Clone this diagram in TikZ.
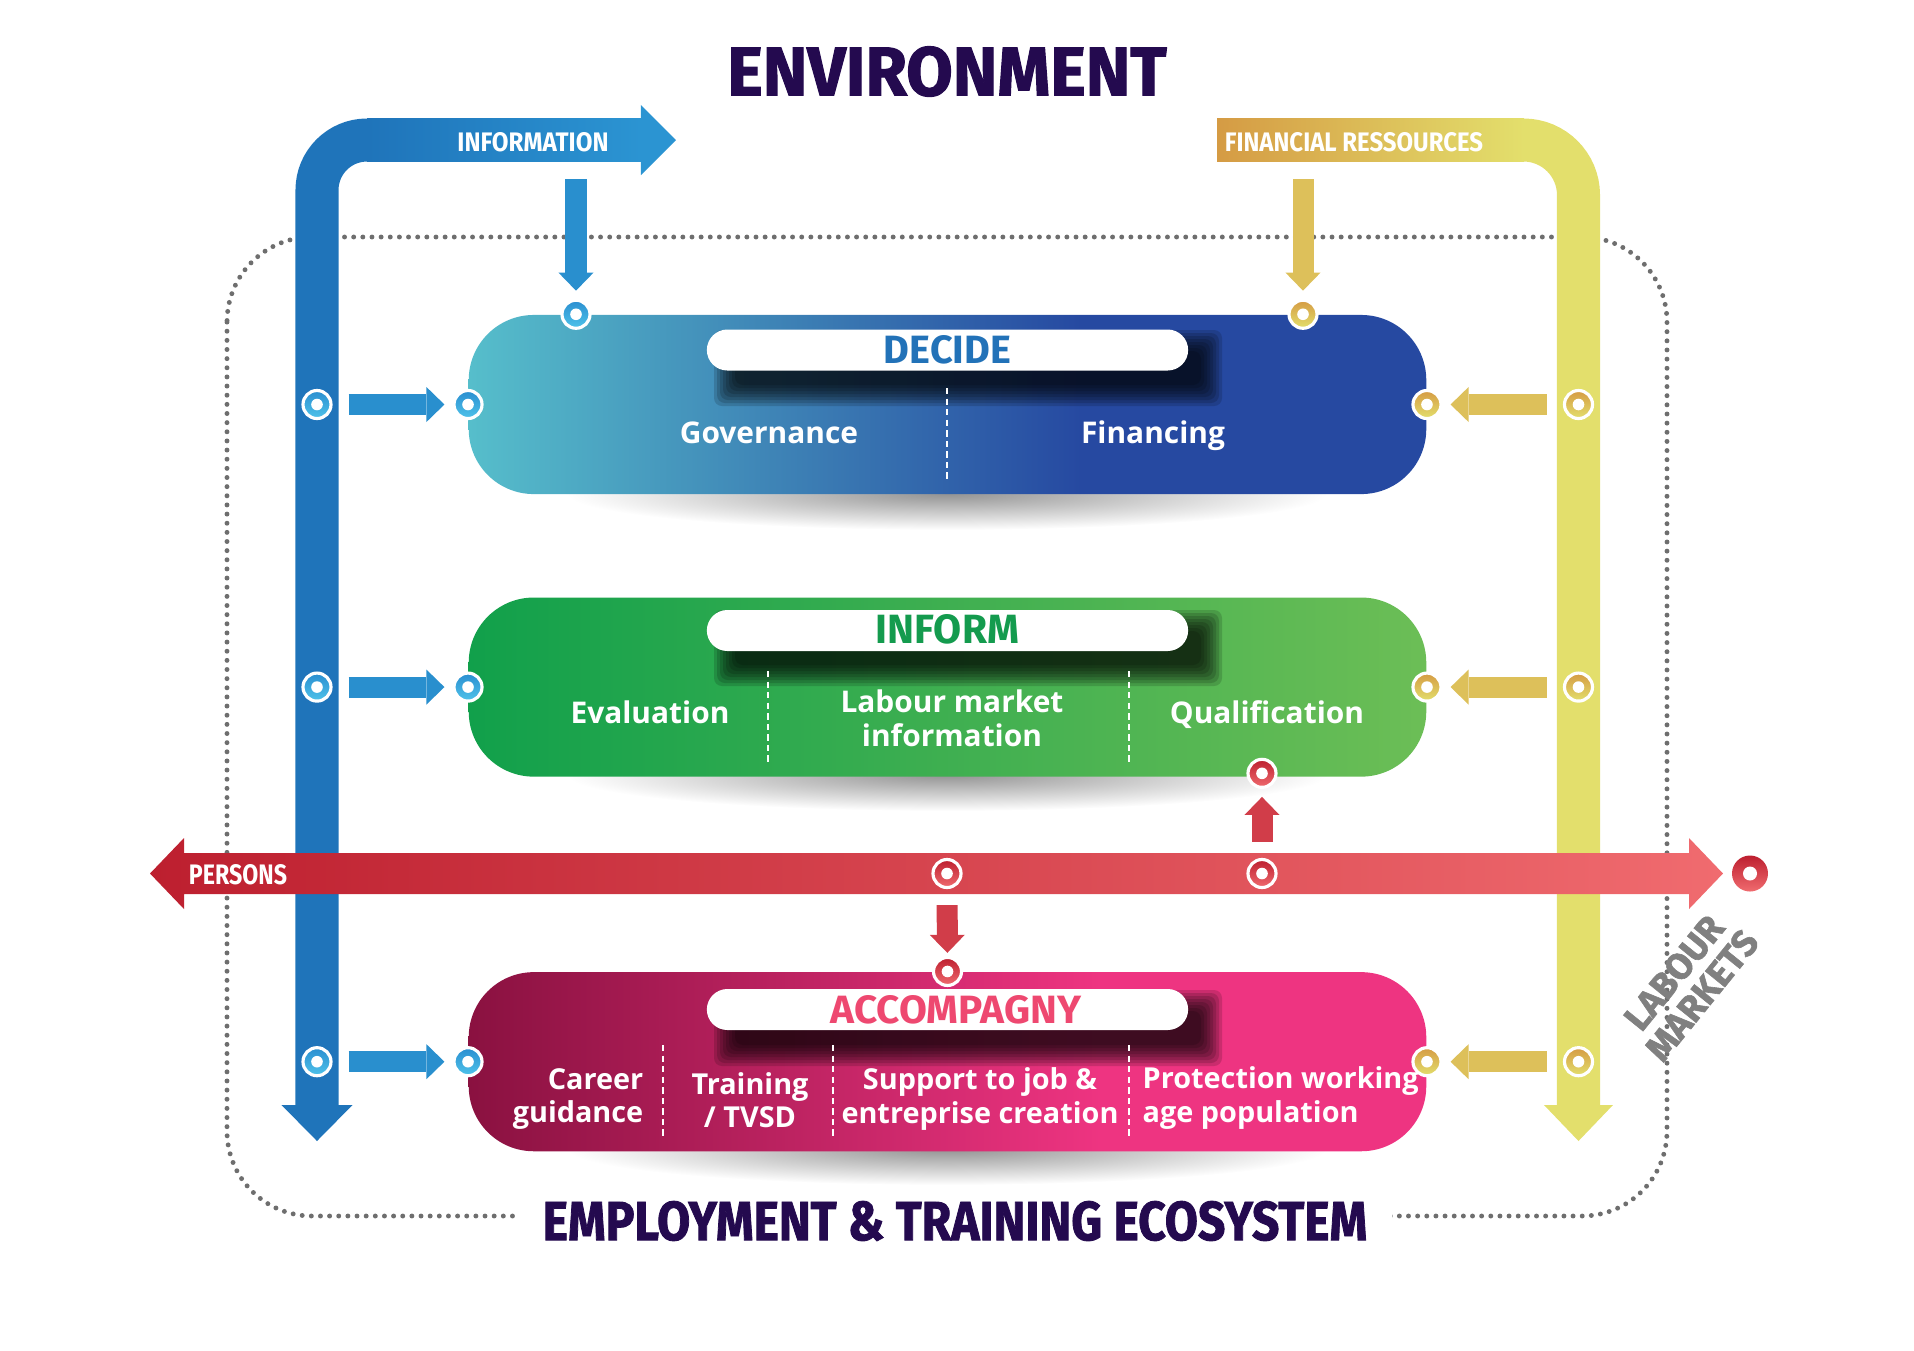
\documentclass[tikz,border=0pt]{standalone}
\usepackage{fontspec}
\usepackage{graphicx}
\usepackage{xcolor}
\usetikzlibrary{positioning,arrows.meta}

\newfontfamily\labelfont{Open Sans}
\newfontfamily\bandfont{Fira Sans}
\newfontfamily\heavyfont{Fira Sans}[BoldFeatures={FakeBold=1.6}]

\definecolor{envpurple}{HTML}{240A4F}
\definecolor{dotgray}{HTML}{6E6E6E}
\definecolor{labgray}{HTML}{808080}
\definecolor{infoblue}{HTML}{1F74BA}
\definecolor{infolight}{HTML}{2B94D2}
\definecolor{fingold}{HTML}{D59B44}
\definecolor{finyellow}{HTML}{E3DF6C}
\definecolor{persdark}{HTML}{BD1F2F}
\definecolor{perslight}{HTML}{F06B6F}
\definecolor{decteal}{HTML}{56BECB}
\definecolor{decblue}{HTML}{2649A1}
\definecolor{infgreen}{HTML}{11A04B}
\definecolor{inflight}{HTML}{6CBE56}
\definecolor{accwine}{HTML}{8A1140}
\definecolor{accpink}{HTML}{EE3481}
\definecolor{decidetext}{HTML}{2272B8}
\definecolor{informtext}{HTML}{149B4E}
\definecolor{accotext}{HTML}{EE4870}
\definecolor{ringblueA}{HTML}{2A8ED0}
\definecolor{ringblueB}{HTML}{4FC3EA}

\pgfdeclarehorizontalshading{decideshade}{100bp}{color(0bp)=(decteal); color(25bp)=(decteal); color(57bp)=(decblue); color(100bp)=(decblue)}
\pgfdeclarehorizontalshading{accoshade}{100bp}{color(0bp)=(accwine); color(25bp)=(accwine); color(58bp)=(accpink); color(100bp)=(accpink)}

\newcommand{\fitcaps}[3]{\resizebox{#1}{#2}{#3}}

\begin{document}
\begin{tikzpicture}[
    x=0.01cm, y=-0.01cm,
    % --- dotted ecosystem frame ---
    ecoline/.style={draw=dotgray, line width=1.4pt, line cap=round,
                    dash pattern=on 0pt off 2.6pt, rounded corners=0.85cm},
    % --- wide environment bands ---
    band/.style={line width=0.43cm, rounded corners=0.5cm},
    % --- stage box ---
    stagebox/.style={shade, rounded corners=0.65cm, minimum width=9.57cm,
                     minimum height=1.79cm, inner sep=0pt},
    boxshadow/.style={inner color=black!42, outer color=white},
    pill/.style={fill=white, rounded corners=0.205cm, minimum width=4.81cm,
                 minimum height=0.41cm, inner sep=0pt},
    lbl/.style={text=white, font=\labelfont\bfseries\fontsize{8.5}{9.7}\selectfont,
                align=center, inner sep=0pt},
    smalllbl/.style={lbl, font=\labelfont\bfseries\fontsize{8.2}{9.5}\selectfont},
    divider/.style={draw=white, line width=0.55pt, dash pattern=on 1.8pt off 1.2pt},
    % --- rings ---
    ring/.style={circle, draw=white, line width=0.9pt, minimum size=0.28cm,
                 inner sep=0pt,
                 path picture={\fill[white] (path picture bounding box.center) circle (0.058cm);}},
    bluering/.style={ring, top color=ringblueA, bottom color=ringblueB},
    goldring/.style={ring, top color=fingold, bottom color=finyellow},
    redring/.style={ring, top color=persdark, bottom color=perslight},
    bigring/.style={circle, draw=none, minimum size=0.36cm, inner sep=0pt,
                    top color=persdark, bottom color=perslight,
                    path picture={\fill[white] (path picture bounding box.center) circle (0.07cm);}},
    % --- short links ---
    link/.style={line width=0.21cm, -{Triangle[width=0.35cm, length=0.18cm, line width=0pt]},
                 shorten <=0.16cm, shorten >=0.08cm},
    bluelink/.style={link, draw=infolight!85!infoblue},
    goldlink/.style={link, draw=finyellow!55!fingold},
    redlink/.style={link, draw=persdark!60!perslight},
    bandtext/.style={text=white, inner sep=0pt},
    title/.style={text=envpurple, inner sep=0pt},
  ]
  \useasboundingbox (0,0) rectangle (1914,1350);

  % ---- ecosystem frame ---------------------------------------------------
  \draw[ecoline] (227,237) rectangle (1667,1216);

  % ---- stage boxes --------------------------------------------------------
  \shade[boxshadow] (947,494) ellipse (380 and 36);
  \shade[boxshadow] (947,775) ellipse (380 and 36);
  \shade[boxshadow] (947,1149) ellipse (380 and 36);

  \node[stagebox, shading=decideshade] (decide) at (947.5,404.5) {};
  \node[stagebox, left color=infgreen, right color=inflight, below=1.02cm of decide] (inform) {};
  \node[stagebox, shading=accoshade, below=1.94cm of inform] (accomp) {};

  % blurred shadows under the title pills
  \foreach \py in {350,630,1010}
    \foreach \k in {0,...,7}
      \fill[black, opacity=0.15, rounded corners=0.08cm]
        (714+3*\k, \py-20+3*\k) rectangle (1222-3*\k, \py+56-3*\k);

  \node[pill] (decidepill) at (947.5,350) {};
  \node[text=decidetext, inner sep=0pt] (decidename) at (947.5,350)
        {\fitcaps{1.27cm}{0.28cm}{\bandfont\bfseries DECIDE}};
  \node[pill] (informpill) at (947.5,630.5) {};
  \node[text=informtext, inner sep=0pt] (informname) at (947.5,629)
        {\fitcaps{1.43cm}{0.29cm}{\bandfont\bfseries INFORM}};
  \node[pill] (accopill) at (947.5,1009.5) {};
  \node[text=accotext, inner sep=0pt] (acconame) at (956,1010)
        {\fitcaps{2.50cm}{0.28cm}{\bandfont\bfseries ACCOMPAGNY}};

  % ---- box contents -------------------------------------------------------
  \draw[divider] (947,388) -- (947,479);
  \node[lbl, anchor=base] (gov) at (769,443) {Governance};
  \node[lbl, anchor=base] (fin) at (1153,443) {Financing};

  \draw[divider] (768,671) -- (768,765);
  \draw[divider] (1129,671) -- (1129,765);
  \node[lbl, anchor=base] (eval) at (650,723.5) {Evaluation};
  \node[lbl] (lmi) at (952,718) {Labour market\\information};
  \node[lbl, anchor=base] (qual) at (1267,723.5) {Qualification};

  \draw[divider] (663,1045) -- (663,1138);
  \draw[divider] (833,1045) -- (833,1138);
  \draw[divider] (1129,1045) -- (1129,1138);
  \node[smalllbl, align=right, anchor=east] (career) at (644,1099) {Career\\guidance};
  \node[smalllbl] (train) at (750,1100) {Training\\/ TVSD};
  \node[smalllbl] (support) at (980,1099) {Support to job \&\\entreprise creation};
  \node[smalllbl, align=left, anchor=west] (protect) at (1142,1098) {Protection working\\age population};

  % ---- environment bands --------------------------------------------------
  \coordinate (blueaxis) at (317,0);
  \coordinate (goldaxis) at (1578.5,0);
  \draw[band, infoblue,
        {Triangle[width=0.70cm, length=0.35cm, line width=0pt, color=infolight, fill=infolight]}-{Triangle[width=0.71cm, length=0.36cm, line width=0pt]}]
        (676,140) -- (317,140) -- (317,1141);
  \shade[left color=infoblue, right color=infolight] (367,118.5) rectangle (641.5,161.5);
  \node[bandtext] (infolabel) at (533,142.5)
        {\fitcaps{1.51cm}{0.19cm}{\bandfont\bfseries INFORMATION}};

  \draw[band, rounded corners=0.55cm, finyellow,
        -{Triangle[width=0.69cm, length=0.36cm, line width=0pt]}]
        (1217,140) -- (1578.5,140) -- (1578.5,1141);
  \shade[left color=fingold, right color=finyellow] (1217,118.5) rectangle (1524,161.5);
  \node[bandtext] (finlabel) at (1354,142.5)
        {\fitcaps{2.58cm}{0.19cm}{\bandfont\bfseries FINANCIAL RESSOURCES}};

  \shade[left color=persdark, right color=perslight]
        (150,873.5) -- (184,838) -- (184,853) -- (1689,853) -- (1689,838) -- (1723,873.5)
        -- (1689,909) -- (1689,894) -- (184,894) -- (184,909) -- cycle;
  \node[bandtext] (perslabel) at (238,875)
        {\fitcaps{0.98cm}{0.20cm}{\bandfont\bfseries PERSONS}};

  % ---- rings --------------------------------------------------------------
  \node[bluering] (b1) at (decide.west -| blueaxis) {};
  \node[bluering] (b2) at (inform.west -| blueaxis) {};
  \node[bluering] (b3) at (accomp.west -| blueaxis) {};
  \node[bluering] (d1) at (decide.west) {};
  \node[bluering] (i1) at (inform.west) {};
  \node[bluering] (a1) at (accomp.west) {};
  \node[goldring] (y1) at (decide.east -| goldaxis) {};
  \node[goldring] (y2) at (inform.east -| goldaxis) {};
  \node[goldring] (y3) at (accomp.east -| goldaxis) {};
  \node[goldring] (d2) at (decide.east) {};
  \node[goldring] (i2) at (inform.east) {};
  \node[goldring] (a2) at (accomp.east) {};
  \coordinate (infodrop) at (576,179);
  \coordinate (findrop) at (1303,179);
  \node[bluering] (dtop) at (decide.north -| infodrop) {};
  \node[goldring] (ftop) at (decide.north -| findrop) {};
  \node[redring] (p1) at (947,873.5) {};
  \node[redring] (p2) at (1262,873.5) {};
  \node[redring] (qbot) at ([yshift=0.04cm]inform.south -| p2) {};
  \node[redring] (atop) at (accomp.north) {};
  \node[bigring] (market) at (1750,873.5) {};

  % ---- links --------------------------------------------------------------
  \draw[bluelink] (b1) -- (d1);
  \draw[bluelink] (b2) -- (i1);
  \draw[bluelink] (b3) -- (a1);
  \draw[goldlink] (y1) -- (d2);
  \draw[goldlink] (y2) -- (i2);
  \draw[goldlink] (y3) -- (a2);
  \draw[bluelink, shorten <=0pt] (infodrop) -- (dtop);
  \draw[goldlink, shorten <=0pt] (findrop) -- (ftop);
  \draw[redlink] (p2) -- (qbot);
  \draw[redlink, shorten >=0.03cm] (p1) -- (atop);

  % ---- titles -------------------------------------------------------------
  \node[title] (envtitle) at (947,71.5)
        {\fitcaps{4.39cm}{0.49cm}{\heavyfont\bfseries ENVIRONMENT}};
  \node[title, fill=white, inner xsep=0.25cm, inner ysep=0.05cm] (ecotitle) at (955,1221)
        {\fitcaps{8.24cm}{0.39cm}{\heavyfont\bfseries EMPLOYMENT \& TRAINING ECOSYSTEM}};
  \node[rotate=51, text=labgray, align=center, inner sep=0pt,
        font=\heavyfont\bfseries\fontsize{10.4}{10.2}\selectfont] (labour) at (1688,984)
        {LABOUR\\MARKETS};

\end{tikzpicture}
\end{document}
